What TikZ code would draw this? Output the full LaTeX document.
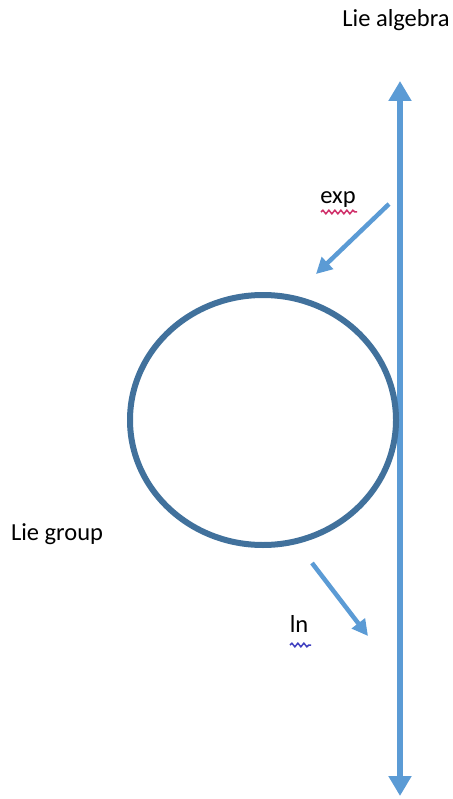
\documentclass[tikz,border=0pt]{standalone}
\usepackage{fontspec}
\setmainfont{Carlito}
\usetikzlibrary{arrows.meta,decorations.pathmorphing}
\definecolor{axisblue}{HTML}{5B9BD5}
\definecolor{ringblue}{HTML}{41719C}
\definecolor{spellred}{HTML}{D0306A}
\definecolor{spellblue}{HTML}{4040C0}
\tikzset{
  lbl/.style={font=\fontsize{24.5}{28}\selectfont, text=black, inner sep=0pt},
  axis/.style={draw=axisblue, line width=6pt, {Triangle[width=22pt,length=20pt]}-{Triangle[width=22pt,length=20pt]}},
  maparrow/.style={draw=axisblue, line width=4.5pt, -{Triangle[width=16pt,length=16pt]}},
  ring/.style={draw=ringblue, line width=6pt},
  squiggle/.style={decorate, decoration={snake, amplitude=1.8pt, segment length=6pt}, line width=1.5pt}
}
\begin{document}
\begin{tikzpicture}[x=1pt,y=-1pt]
\useasboundingbox (0,0) rectangle (452,799);
\coordinate (top) at (400,81);
\coordinate (bot) at (400,796);
\draw[axis] (bot) -- (top);
\draw[ring] (263,420) ellipse [x radius=133, y radius=125];
\coordinate (e1) at (389,204);
\coordinate (e2) at (316,274);
\draw[maparrow] (e1) -- (e2);
\coordinate (l1) at (312,563);
\coordinate (l2) at (368,636);
\draw[maparrow] (l1) -- (l2);
\node[lbl] (alg) at (396,20) {Lie algebra};
\node[lbl] (grp) at (57,534) {Lie group};
\node[lbl] (exp) at (338,200) {exp};
\node[lbl] (ln) at (299,624) {ln};
\coordinate (s1) at (321,212);
\coordinate (s2) at (357,212);
\draw[squiggle, spellred] (s1) -- (s2);
\coordinate (s3) at (290,645);
\coordinate (s4) at (311,645);
\draw[squiggle, spellblue] (s3) -- (s4);
\end{tikzpicture}
\end{document}
